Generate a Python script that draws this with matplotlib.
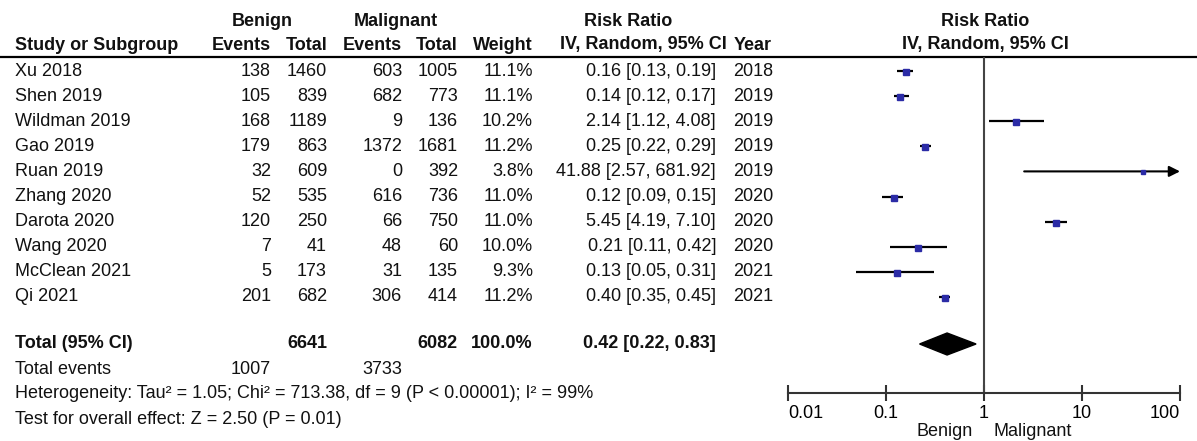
import matplotlib
matplotlib.use("Agg")
import matplotlib.pyplot as plt
from matplotlib.patches import Polygon

plt.rcParams['font.family'] = ['Liberation Sans', 'DejaVu Sans']

# ---------------- data ----------------
studies = ["Xu 2018", "Shen 2019", "Wildman 2019", "Gao 2019", "Ruan 2019",
           "Zhang 2020", "Darota 2020", "Wang 2020", "McClean 2021", "Qi 2021"]
benign_events = [138, 105, 168, 179, 32, 52, 120, 7, 5, 201]
benign_total = [1460, 839, 1189, 863, 609, 535, 250, 41, 173, 682]
malig_events = [603, 682, 9, 1372, 0, 616, 66, 48, 31, 306]
malig_total = [1005, 773, 136, 1681, 392, 736, 750, 60, 135, 414]
weights = [11.1, 11.1, 10.2, 11.2, 3.8, 11.0, 11.0, 10.0, 9.3, 11.2]
rr = [0.16, 0.14, 2.14, 0.25, 41.88, 0.12, 5.45, 0.21, 0.13, 0.40]
rr_lo = [0.13, 0.12, 1.12, 0.22, 2.57, 0.09, 4.19, 0.11, 0.05, 0.35]
rr_hi = [0.19, 0.17, 4.08, 0.29, 681.92, 0.15, 7.10, 0.42, 0.31, 0.45]
years = [2018, 2019, 2019, 2019, 2019, 2020, 2020, 2020, 2021, 2021]

total_benign = 6641
total_malig = 6082
total_weight = "100.0%"
pooled = (0.42, 0.22, 0.83)
events_benign_sum = 1007
events_malig_sum = 3733
heterogeneity = "Heterogeneity: Tau² = 1.05; Chi² = 713.38, df = 9 (P < 0.00001); I² = 99%"
overall = "Test for overall effect: Z = 2.50 (P = 0.01)"
xticks = [0.01, 0.1, 1, 10, 100]
xticklabels = ["0.01", "0.1", "1", "10", "100"]

# ---------------- layout (pixels) ----------------
W, H = 1197, 441
FS = 13
row0, rowstep = 71, 25.1
y_total = 344
y_events = 369
y_het = 394
y_test = 419
rule_y = 57

col_study = 15
col_be = 271
col_bt = 327
col_me = 402
col_mt = 458
col_w = 533
col_rr = 716
col_year = 733

fig = plt.figure(figsize=(W / 100, H / 100), dpi=100)
bg = fig.add_axes([0, 0, 1, 1])
bg.set_xlim(0, W)
bg.set_ylim(H, 0)
bg.axis('off')

def t(x, y, s, ha='left', bold=False, **kw):
    bg.text(x, y, s, ha=ha, va='center', fontsize=FS,
            fontweight='bold' if bold else 'normal', color='#111111', **kw)

# headers
t(262, 21, "Benign", ha='center', bold=True)
t(396, 21, "Malignant", ha='center', bold=True)
t(628, 21, "Risk Ratio", ha='center', bold=True)
t(col_study, 45, "Study or Subgroup", bold=True)
t(col_be, 45, "Events", ha='right', bold=True)
t(col_bt, 45, "Total", ha='right', bold=True)
t(col_me, 45, "Events", ha='right', bold=True)
t(col_mt, 45, "Total", ha='right', bold=True)
t(col_w, 45, "Weight", ha='right', bold=True)
t(727, 45, "IV, Random, 95% CI", ha='right', bold=True)
t(col_year + 1, 45, "Year", bold=True)
t(985, 21, "Risk Ratio", ha='center', bold=True)
t(985, 45, "IV, Random, 95% CI", ha='center', bold=True)

bg.plot([0, W], [rule_y, rule_y], color='black', lw=1.6)

# study rows
for i, name in enumerate(studies):
    y = row0 + rowstep * i
    t(col_study, y, name)
    t(col_be, y, f"{benign_events[i]}", ha='right')
    t(col_bt, y, f"{benign_total[i]}", ha='right')
    t(col_me, y, f"{malig_events[i]}", ha='right')
    t(col_mt, y, f"{malig_total[i]}", ha='right')
    t(col_w, y, f"{weights[i]:.1f}%", ha='right')
    t(col_rr, y, f"{rr[i]:.2f} [{rr_lo[i]:.2f}, {rr_hi[i]:.2f}]", ha='right')
    t(col_year, y, f"{years[i]}")

# totals
t(col_study, y_total, "Total (95% CI)", bold=True)
t(col_bt, y_total, f"{total_benign}", ha='right', bold=True)
t(col_mt, y_total, f"{total_malig}", ha='right', bold=True)
t(col_w, y_total, total_weight, ha='right', bold=True)
t(col_rr, y_total, f"{pooled[0]:.2f} [{pooled[1]:.2f}, {pooled[2]:.2f}]", ha='right', bold=True)
t(col_study, y_events, "Total events")
t(col_be, y_events, f"{events_benign_sum}", ha='right')
t(col_me, y_events, f"{events_malig_sum}", ha='right')
t(col_study, y_het, heterogeneity)
t(col_study, y_test, overall)

# ---------------- forest axes ----------------
x0, x1 = 788, 1180
ybot = 393
ax = fig.add_axes([x0 / W, (H - ybot) / H, (x1 - x0) / W, (ybot - rule_y) / H])
ax.set_xscale('log')
ax.set_xlim(0.01, 100)
ax.set_ylim(ybot, rule_y)
ax.patch.set_alpha(0)
for s in ['top', 'right', 'left']:
    ax.spines[s].set_visible(False)
ax.spines['bottom'].set_linewidth(1.5)
ax.spines['bottom'].set_color('#333333')
ax.set_yticks([])
ax.set_xticks(xticks)
ax.set_xticklabels(xticklabels, fontsize=FS)
ax.minorticks_off()
ax.tick_params(axis='x', direction='inout', length=12, width=1.5, color='#333333', pad=3)
labs = ax.get_xticklabels()
labs[0].set_ha('left')
labs[-1].set_ha('right')

ax.axvline(1, color='#444444', lw=1.5)

for i in range(len(studies)):
    y = row0 + rowstep * i
    if rr_hi[i] > 100:
        ax.annotate("", xy=(100, y), xytext=(rr_lo[i], y),
                    arrowprops=dict(arrowstyle='-|>', color='black', lw=1.5,
                                    mutation_scale=16, shrinkA=0, shrinkB=0),
                    annotation_clip=False)
    else:
        ax.plot([rr_lo[i], rr_hi[i]], [y, y], color='black', lw=1.6, solid_capstyle='butt')
    ms = 1.35 * (weights[i] ** 0.5)
    ax.plot(rr[i], y + 1, marker='s', ms=ms, color='#2b2ba6', mec='#2b2ba6', zorder=3)

py = y_total
diamond = Polygon([(pooled[1], py), (pooled[0], py - 11), (pooled[2], py), (pooled[0], py + 11)],
                  closed=True, color='black')
ax.add_patch(diamond)

bg.text(945, 431, "Benign", ha='center', va='center', fontsize=FS, color='#111111')
bg.text(1033, 431, "Malignant", ha='center', va='center', fontsize=FS, color='#111111')

fig.savefig("out.png", dpi=100)
